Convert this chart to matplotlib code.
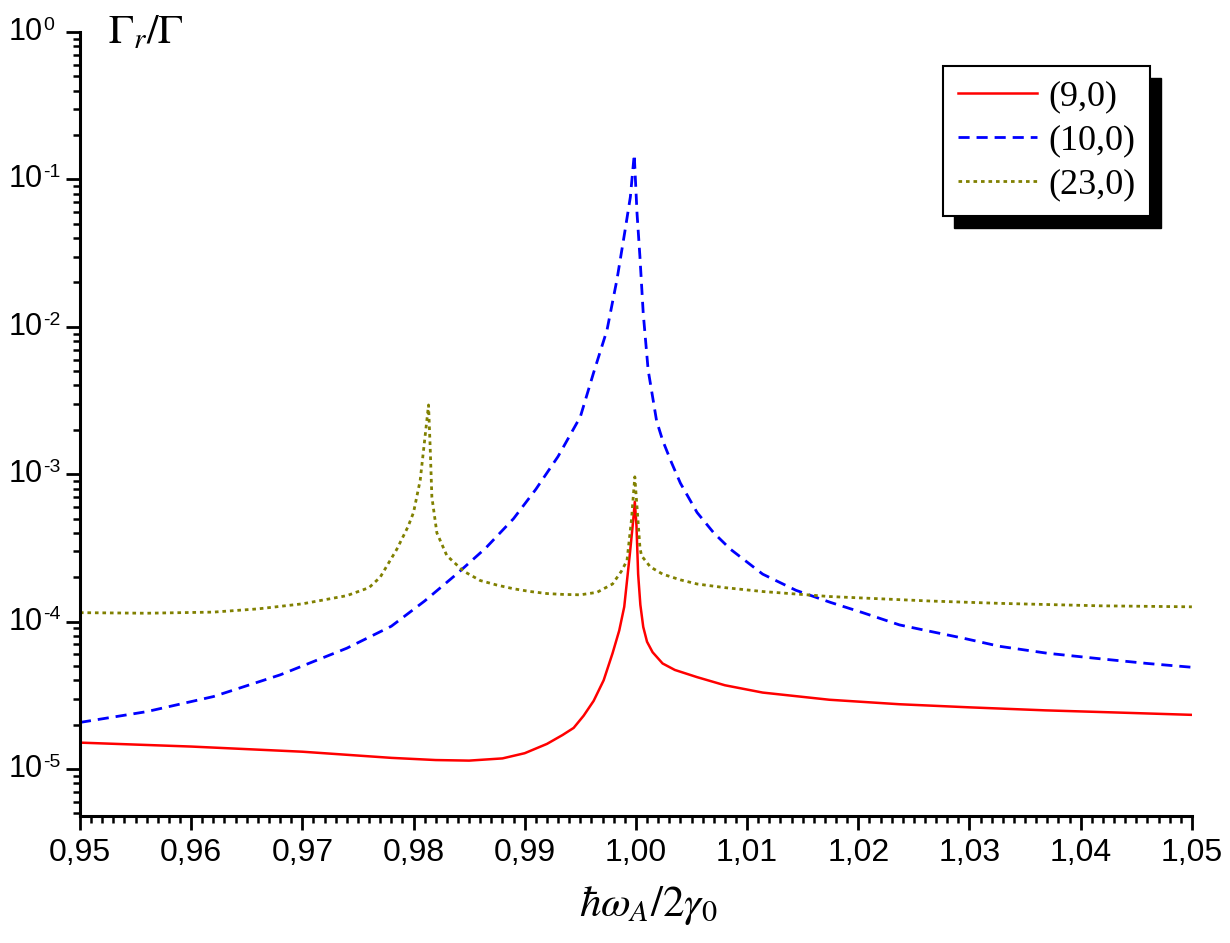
import matplotlib
matplotlib.use("Agg")
import matplotlib.pyplot as plt
from matplotlib.patches import Rectangle

plt.rcParams['font.family'] = ['Liberation Sans', 'DejaVu Sans']
plt.rcParams['mathtext.fontset'] = 'stix'

# (9,0)
x_9 = [0.950, 0.960, 0.970, 0.978, 0.982, 0.985, 0.988, 0.990, 0.992, 0.9934,
       0.9944, 0.9953, 0.9962, 0.9971, 0.9979, 0.9985, 0.99895, 0.99946, 0.99976,
       0.9999, 1.00005, 1.0002, 1.0004, 1.00066, 1.001, 1.0015, 1.0024, 1.0035,
       1.0055, 1.008, 1.0114, 1.0174, 1.0237, 1.030, 1.0368, 1.043, 1.050]
y_9 = [1.51e-5, 1.42e-5, 1.31e-5, 1.19e-5, 1.15e-5, 1.14e-5, 1.18e-5, 1.28e-5, 1.48e-5, 1.7e-5,
       1.9e-5, 2.3e-5, 2.9e-5, 4.0e-5, 6.1e-5, 8.7e-5, 1.26e-4, 2.9e-4, 4.9e-4,
       6.5e-4, 4.5e-4, 2.1e-4, 1.3e-4, 9.2e-5, 7.3e-5, 6.2e-5, 5.2e-5, 4.7e-5,
       4.2e-5, 3.7e-5, 3.3e-5, 2.95e-5, 2.75e-5, 2.62e-5, 2.5e-5, 2.42e-5, 2.33e-5]

# (10,0)
x_10 = [0.950, 0.956, 0.962, 0.968, 0.974, 0.978, 0.981, 0.984, 0.9865, 0.989,
        0.991, 0.993, 0.995, 0.9962, 0.9974, 0.9983, 0.999, 0.9995, 0.99985,
        1.0001, 1.00036, 1.00066, 1.0011, 1.00186, 1.0024, 1.0032, 1.004, 1.0055,
        1.007, 1.0085, 1.0114, 1.0144, 1.0175, 1.0204, 1.0237, 1.0261, 1.0295,
        1.0327, 1.037, 1.0417, 1.046, 1.050]
y_10 = [2.07e-5, 2.45e-5, 3.1e-5, 4.35e-5, 6.6e-5, 9.3e-5, 1.38e-4, 2.14e-4, 3.16e-4, 5.0e-4,
        7.9e-4, 1.32e-3, 2.45e-3, 4.9e-3, 9.5e-3, 2.1e-2, 4.4e-2, 7.6e-2, 0.148,
        5.9e-2, 3.0e-2, 1.23e-2, 5.1e-3, 2.3e-3, 1.7e-3, 1.2e-3, 8.7e-4, 5.5e-4,
        4.0e-4, 3.1e-4, 2.1e-4, 1.63e-4, 1.35e-4, 1.15e-4, 9.5e-5, 8.7e-5, 7.7e-5,
        6.8e-5, 6.1e-5, 5.6e-5, 5.2e-5, 4.9e-5]

# (23,0)
x_23 = [0.950, 0.956, 0.962, 0.966, 0.970, 0.974, 0.976, 0.977, 0.9785, 0.9795,
        0.980, 0.9806, 0.981, 0.98135, 0.9815, 0.98165, 0.9821, 0.983, 0.9845, 0.986,
        0.9875, 0.989, 0.9905, 0.992, 0.9934, 0.995, 0.9965, 0.9979, 0.9987, 0.9992,
        0.9996, 0.9999, 1.0002, 1.00036, 1.0005, 1.0013, 1.0024, 1.004, 1.0055,
        1.008, 1.0114, 1.0174, 1.0264, 1.0327, 1.0417, 1.050]
y_23 = [1.15e-4, 1.14e-4, 1.16e-4, 1.22e-4, 1.32e-4, 1.5e-4, 1.7e-4, 2.0e-4, 3.1e-4, 4.4e-4,
        5.5e-4, 9.1e-4, 1.7e-3, 2.95e-3, 1.5e-3, 7.0e-4, 4.0e-4, 2.8e-4, 2.2e-4, 1.9e-4,
        1.77e-4, 1.67e-4, 1.6e-4, 1.55e-4, 1.53e-4, 1.52e-4, 1.58e-4, 1.8e-4, 2.2e-4, 2.6e-4,
        4.9e-4, 9.6e-4, 4.7e-4, 3.2e-4, 2.8e-4, 2.35e-4, 2.1e-4, 1.92e-4, 1.8e-4,
        1.7e-4, 1.6e-4, 1.48e-4, 1.38e-4, 1.33e-4, 1.28e-4, 1.26e-4]

labels = ['(9,0)', '(10,0)', '(23,0)']
x_ticks = [0.95, 0.96, 0.97, 0.98, 0.99, 1.00, 1.01, 1.02, 1.03, 1.04, 1.05]
y_ticks = [1e-5, 1e-4, 1e-3, 1e-2, 1e-1, 1e0]
y_exponents = ['-5', '-4', '-3', '-2', '-1', '0']

fig = plt.figure(figsize=(12.3, 9.43), dpi=100)
ax = fig.add_axes([0.065, 0.1347, 0.904, 0.8313])

ax.plot(x_9, y_9, color='#ff0000', lw=1.8, label=labels[0])
ax.plot(x_10, y_10, color='#0000ff', lw=2.0, dashes=(4, 2.5), label=labels[1])
ax.plot(x_23, y_23, color='#808000', lw=2.0, dashes=(1.3, 1.4), label=labels[2])

ax.set_yscale('log')
ax.set_xlim(0.95, 1.05)
ax.set_ylim(4.8e-6, 1.0)

ax.spines['top'].set_visible(False)
ax.spines['right'].set_visible(False)
ax.spines['left'].set_linewidth(2.2)
ax.spines['bottom'].set_linewidth(2.2)

ax.set_xticks(x_ticks)
ax.set_xticklabels([f'{v:.2f}'.replace('.', ',') for v in x_ticks])
ax.set_xticks([0.95 + 0.001 * i for i in range(101)], minor=True)
ax.set_yticks(y_ticks)
ax.set_yticklabels([])
ax.yaxis.set_minor_locator(matplotlib.ticker.LogLocator(base=10, subs=range(2, 10), numticks=20))
ax.yaxis.set_minor_formatter(matplotlib.ticker.NullFormatter())

ax.tick_params(which='major', direction='out', length=10, width=2, pad=6)
ax.tick_params(axis='x', which='major', labelsize=23)
ax.tick_params(which='minor', direction='out', length=5, width=1.8)

# y tick labels: "10" with a small raised exponent
for v, e in zip(y_ticks, y_exponents):
    ax.annotate('10', xy=(0, v), xycoords=('axes fraction', 'data'), xytext=(-26.5, 0),
                textcoords='offset points', ha='right', va='center', fontsize=22,
                annotation_clip=False)
    ax.annotate(e, xy=(0, v), xycoords=('axes fraction', 'data'), xytext=(-26.5, 11),
                textcoords='offset points', ha='left', va='top', fontsize=14,
                annotation_clip=False)

fig.text(0.088, 0.966, r'$\Gamma_r/\Gamma$', fontsize=30, va='center', ha='left')
fig.text(0.527, 0.04, r'$\hbar\omega_A/2\gamma_0$', fontsize=31, va='center', ha='center')

leg = ax.legend(loc='upper right', bbox_to_anchor=(0.962, 0.957), borderaxespad=0,
                frameon=True, fancybox=False, edgecolor='black', framealpha=1,
                prop={'family': 'Liberation Serif', 'size': 26},
                handlelength=2.2, labelspacing=0.3, borderpad=0.4, handletextpad=0.3)
leg.get_frame().set_linewidth(1.5)

fig.canvas.draw()
bb = leg.get_window_extent()
inv = ax.transAxes.inverted()
(x0, y0), (x1, y1) = inv.transform([(bb.x0 + 11, bb.y0 - 12), (bb.x1 + 11, bb.y1 - 12)])
ax.add_patch(Rectangle((x0, y0), x1 - x0, y1 - y0, transform=ax.transAxes,
                       color='black', zorder=4.9, clip_on=False))

fig.savefig('out.png', dpi=100)
